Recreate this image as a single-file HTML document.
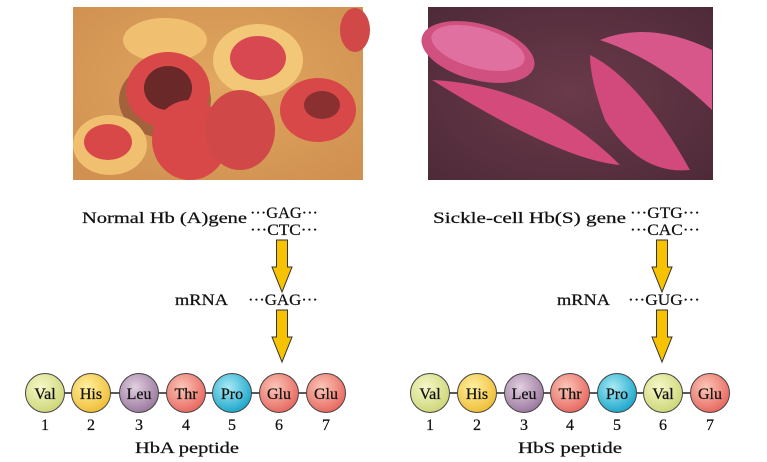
<!DOCTYPE html>
<html><head><meta charset="utf-8"><style>
html,body{margin:0;padding:0;background:#fff;}
svg{display:block;}
text{font-family:"Liberation Serif",serif;fill:#111;stroke:#111;stroke-width:0.25;}
</style></head><body>
<svg width="767" height="462" viewBox="0 0 767 462" xmlns="http://www.w3.org/2000/svg">
<defs>
<radialGradient id="gV" cx="40%" cy="35%" r="65%"><stop offset="0" stop-color="#f6f8c8"/><stop offset="1" stop-color="#cfd77a"/></radialGradient>
<radialGradient id="gH" cx="40%" cy="35%" r="65%"><stop offset="0" stop-color="#fff0a0"/><stop offset="1" stop-color="#f0bf3a"/></radialGradient>
<radialGradient id="gL" cx="40%" cy="35%" r="65%"><stop offset="0" stop-color="#e2cfe0"/><stop offset="1" stop-color="#9c7aa0"/></radialGradient>
<radialGradient id="gT" cx="40%" cy="35%" r="65%"><stop offset="0" stop-color="#fbc6b8"/><stop offset="1" stop-color="#e86a62"/></radialGradient>
<radialGradient id="gP" cx="40%" cy="35%" r="65%"><stop offset="0" stop-color="#a8eaf5"/><stop offset="1" stop-color="#1fa8cc"/></radialGradient>
<radialGradient id="gN" cx="50%" cy="45%" r="70%"><stop offset="0" stop-color="#e0a860"/><stop offset="1" stop-color="#d09050"/></radialGradient>
<radialGradient id="gS" cx="50%" cy="50%" r="70%"><stop offset="0" stop-color="#6a3a4a"/><stop offset="1" stop-color="#4e2a38"/></radialGradient>
<g id="arrow"><path d="M-5.5,0 H5.5 V27 H10 L0,52 L-10,27 H-5.5 Z" fill="#f7c300" stroke="#333" stroke-width="1"/></g>
</defs>

<rect x="73" y="7" width="290" height="173" fill="url(#gN)"/>
<g>
<ellipse cx="165" cy="100" rx="46" ry="38" fill="#6a2820" opacity="0.5"/>
<ellipse cx="165" cy="40" rx="42" ry="22" fill="#f0c070"/>
<ellipse cx="168" cy="90" rx="42" ry="38" fill="#d84848"/>
<ellipse cx="168" cy="88" rx="24" ry="22" fill="#6a2828"/>
<ellipse cx="258" cy="60" rx="45" ry="36" fill="#f2c878"/>
<ellipse cx="258" cy="58" rx="28" ry="22" fill="#d84850"/>
<ellipse cx="318" cy="110" rx="38" ry="32" fill="#d84848"/>
<ellipse cx="322" cy="105" rx="18" ry="14" fill="#8a3030"/>
<ellipse cx="190" cy="140" rx="38" ry="40" fill="#d84848"/>
<ellipse cx="240" cy="130" rx="35" ry="40" fill="#d04848"/>
<ellipse cx="110" cy="145" rx="37" ry="30" fill="#f0c070"/>
<ellipse cx="108" cy="142" rx="24" ry="18" fill="#d84848"/>
<ellipse cx="355" cy="30" rx="15" ry="22" fill="#d04848"/>
</g>
<rect x="428" y="7" width="285" height="173" fill="url(#gS)"/>
<g>
<ellipse cx="478" cy="52" rx="58" ry="28" transform="rotate(15 478 52)" fill="#d05080"/>
<ellipse cx="478" cy="48" rx="48" ry="20" transform="rotate(15 478 48)" fill="#e070a0"/>
<path d="M432,80 Q540,85 620,165 Q560,160 432,80 Z" fill="#d44a7a"/>
<path d="M590,55 Q640,80 690,170 Q640,175 605,120 Q590,80 590,55 Z" fill="#d24a7c"/>
<path d="M600,40 Q650,20 712,50 L712,110 Q660,60 600,40 Z" fill="#d8578a"/>
</g>

<g font-size="16">
<text x="82" y="223" textLength="165" lengthAdjust="spacingAndGlyphs">Normal Hb (A)gene</text>
<text x="250" y="218" textLength="68" lengthAdjust="spacingAndGlyphs">···GAG···</text>
<text x="250" y="235" textLength="68" lengthAdjust="spacingAndGlyphs">···CTC···</text>
<text x="175" y="305" textLength="53" lengthAdjust="spacingAndGlyphs">mRNA</text>
<text x="248" y="305" textLength="70" lengthAdjust="spacingAndGlyphs">···GAG···</text>
<text x="433" y="223" textLength="193" lengthAdjust="spacingAndGlyphs">Sickle-cell Hb(S) gene</text>
<text x="630" y="218" textLength="70" lengthAdjust="spacingAndGlyphs">···GTG···</text>
<text x="630" y="235" textLength="70" lengthAdjust="spacingAndGlyphs">···CAC···</text>
<text x="557" y="305" textLength="53" lengthAdjust="spacingAndGlyphs">mRNA</text>
<text x="628" y="305" textLength="72" lengthAdjust="spacingAndGlyphs">···GUG···</text>
</g>
<use href="#arrow" x="282" y="240"/>
<use href="#arrow" x="282" y="310"/>
<use href="#arrow" x="662" y="240"/>
<use href="#arrow" x="662" y="310"/>

<line x1="45" y1="393" x2="326" y2="393" stroke="#222" stroke-width="1.5"/>
<line x1="430" y1="393" x2="710" y2="393" stroke="#222" stroke-width="1.5"/>
<g stroke="#444" stroke-width="1">
<circle cx="45" cy="393" r="19.5" fill="url(#gV)"/>
<circle cx="91" cy="393" r="19.5" fill="url(#gH)"/>
<circle cx="139" cy="393" r="19.5" fill="url(#gL)"/>
<circle cx="186" cy="393" r="19.5" fill="url(#gT)"/>
<circle cx="232" cy="393" r="19.5" fill="url(#gP)"/>
<circle cx="279" cy="393" r="19.5" fill="url(#gT)"/>
<circle cx="326" cy="393" r="19.5" fill="url(#gT)"/>
<circle cx="430" cy="393" r="19.5" fill="url(#gV)"/>
<circle cx="477" cy="393" r="19.5" fill="url(#gH)"/>
<circle cx="524" cy="393" r="19.5" fill="url(#gL)"/>
<circle cx="570" cy="393" r="19.5" fill="url(#gT)"/>
<circle cx="617" cy="393" r="19.5" fill="url(#gP)"/>
<circle cx="663" cy="393" r="19.5" fill="url(#gV)"/>
<circle cx="710" cy="393" r="19.5" fill="url(#gT)"/>
</g>
<g font-size="16" text-anchor="middle">
<text x="45" y="399">Val</text><text x="91" y="399">His</text><text x="139" y="399">Leu</text><text x="186" y="399">Thr</text><text x="232" y="399">Pro</text><text x="279" y="399">Glu</text><text x="326" y="399">Glu</text>
<text x="430" y="399">Val</text><text x="477" y="399">His</text><text x="524" y="399">Leu</text><text x="570" y="399">Thr</text><text x="617" y="399">Pro</text><text x="663" y="399">Val</text><text x="710" y="399">Glu</text>
<text x="45" y="430">1</text><text x="91" y="430">2</text><text x="139" y="430">3</text><text x="186" y="430">4</text><text x="232" y="430">5</text><text x="279" y="430">6</text><text x="326" y="430">7</text>
<text x="430" y="430">1</text><text x="477" y="430">2</text><text x="524" y="430">3</text><text x="570" y="430">4</text><text x="617" y="430">5</text><text x="663" y="430">6</text><text x="710" y="430">7</text>
<text x="187" y="453" textLength="104" lengthAdjust="spacingAndGlyphs">HbA peptide</text>
<text x="570" y="453" textLength="104" lengthAdjust="spacingAndGlyphs">HbS peptide</text>
</g>
</svg>
</body></html>
